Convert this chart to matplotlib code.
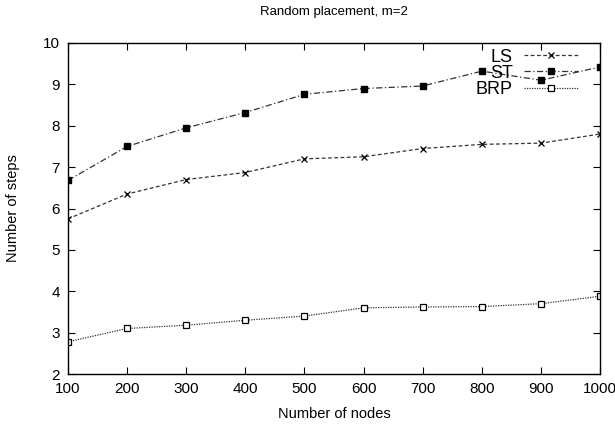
import matplotlib
matplotlib.use('Agg')
import matplotlib.pyplot as plt

nodes = [100, 200, 300, 400, 500, 600, 700, 800, 900, 1000]
ls_steps = [5.75, 6.35, 6.70, 6.87, 7.20, 7.25, 7.45, 7.55, 7.58, 7.80]
st_steps = [6.68, 7.50, 7.95, 8.32, 8.76, 8.90, 8.96, 9.32, 9.10, 9.42]
brp_steps = [2.78, 3.10, 3.18, 3.30, 3.40, 3.60, 3.62, 3.63, 3.70, 3.88]

plt.rcParams['font.family'] = ['Liberation Sans', 'DejaVu Sans']

fig = plt.figure(figsize=(6.15, 4.3), dpi=100)
ax = fig.add_axes([0.1106, 0.1302, 0.8650, 0.7698])

ax.plot(nodes, ls_steps, color='#333333', lw=0.9, ls=(0, (3, 2)),
        marker='x', ms=4.5, mec='black', mew=0.9, label='LS')
ax.plot(nodes, st_steps, color='#333333', lw=0.9, ls=(0, (5, 2, 1, 2)),
        marker='s', ms=4.5, mfc='black', mec='black', label='ST')
ax.plot(nodes, brp_steps, color='#333333', lw=0.9, ls=(0, (1, 1)),
        marker='s', ms=4.5, mfc='white', mec='black', mew=0.9, label='BRP')

ax.set_xlim(100, 1000)
ax.set_ylim(2, 10)
ax.set_xticks(range(100, 1001, 100))
ax.set_yticks(range(2, 11))
ax.tick_params(direction='in', top=True, right=True, length=5, labelsize=11, pad=6)
for s in ax.spines.values():
    s.set_linewidth(1.0)

ax.set_xlabel('Number of nodes', fontsize=10.5, labelpad=8)
ax.set_ylabel('Number of steps', fontsize=10.5, labelpad=16)
ax.set_title('Random placement, m=2', fontsize=9.5, pad=20)

ax.legend(loc='upper right', bbox_to_anchor=(0.975, 1.01), markerfirst=False, frameon=False,
          fontsize=13, handlelength=3.0, labelspacing=-0.05, handletextpad=0.6,
          borderaxespad=0.1)

fig.savefig('out.png', dpi=100)
